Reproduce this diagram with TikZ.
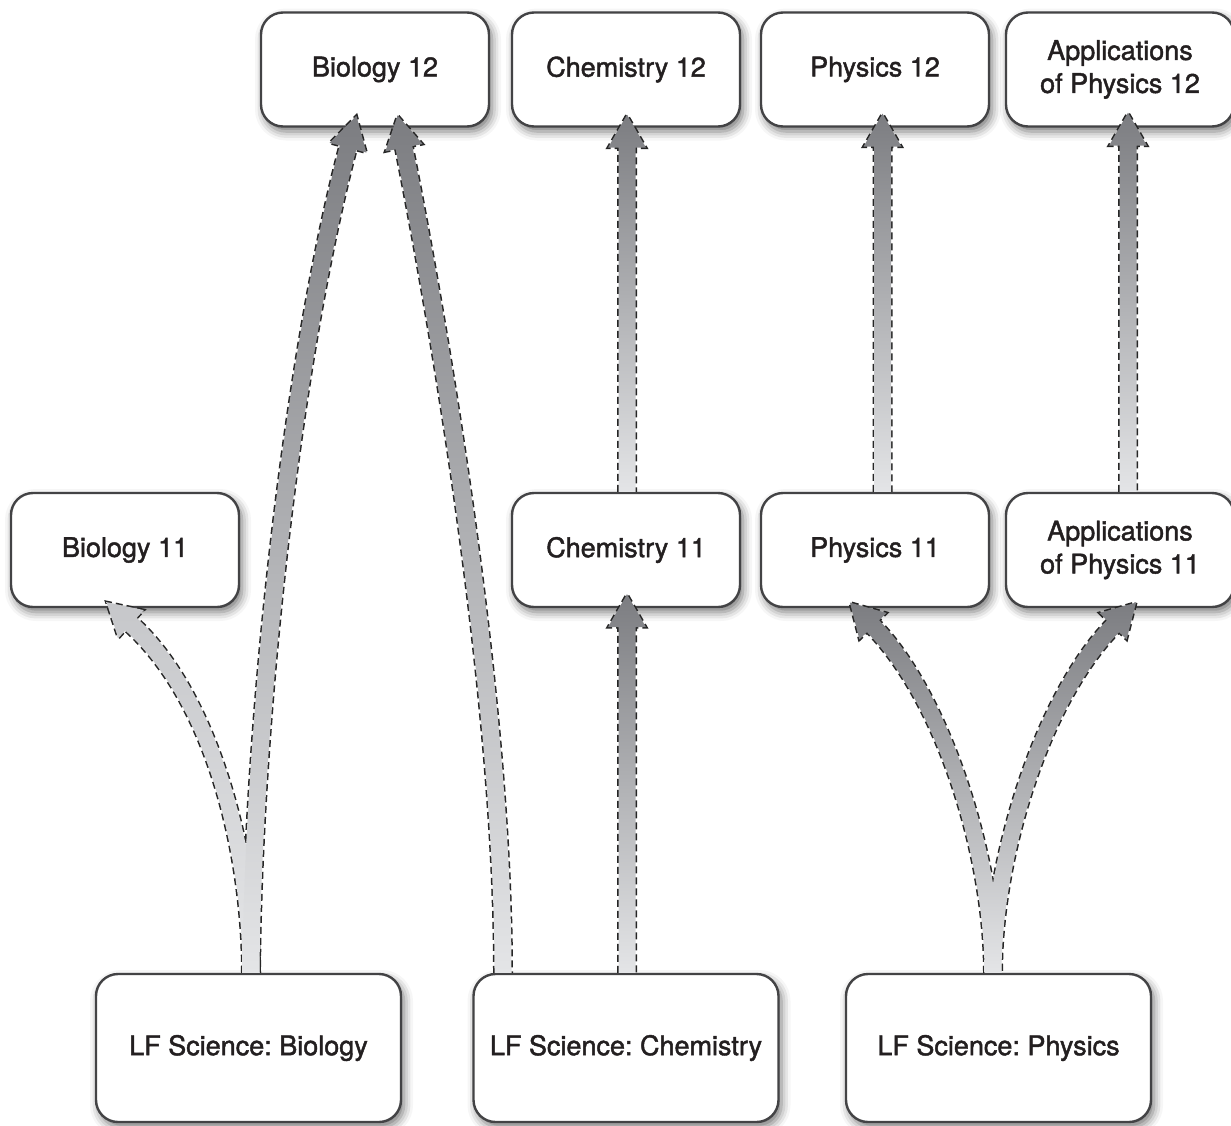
\documentclass[tikz,border=0pt]{standalone}
\usepackage{fontspec}
\setmainfont{TeX Gyre Heros}
\newfontface\boxfont{TeX Gyre Heros}[FakeBold=1.6]
\usetikzlibrary{calc,shadows.blur}
\definecolor{boxline}{HTML}{434345}
\definecolor{textcol}{HTML}{231F20}
\definecolor{flowdark}{HTML}{7C7D81}
\definecolor{flowlight}{HTML}{E4E5E7}
\definecolor{flowpale}{HTML}{C6C7CA}
\def\shaftw{4.25pt}
\def\headw{9.5pt}
\def\headl{16.5pt}
% #1 name, #2 tail, #3 #4 controls, #5 base of the head
\newcommand\setarrow[5]{%
  \coordinate (#1p0) at #2; \coordinate (#1p1) at #3;
  \coordinate (#1p2) at #4; \coordinate (#1p3) at #5;
  \coordinate (#1l0) at ($(#1p0)!\shaftw!90:(#1p1)$);
  \coordinate (#1r0) at ($(#1p0)!\shaftw!-90:(#1p1)$);
  \coordinate (#1l3) at ($(#1p3)!\shaftw!-90:(#1p2)$);
  \coordinate (#1r3) at ($(#1p3)!\shaftw!90:(#1p2)$);
  \coordinate (#1l1) at ($(#1p1)+(#1l0)-(#1p0)$);
  \coordinate (#1r1) at ($(#1p1)+(#1r0)-(#1p0)$);
  \coordinate (#1l2) at ($(#1p2)+(#1l3)-(#1p3)$);
  \coordinate (#1r2) at ($(#1p2)+(#1r3)-(#1p3)$);
  \coordinate (#1hl) at ($(#1p3)!\headw!-90:(#1p2)$);
  \coordinate (#1hr) at ($(#1p3)!\headw!90:(#1p2)$);
  \coordinate (#1tip) at ($(#1p3)!-\headl!(#1p2)$);}
\newcommand\arrowpath[1]{(#1l0) .. controls (#1l1) and (#1l2) .. (#1l3) -- (#1hl) -- (#1tip) -- (#1hr) -- (#1r3) .. controls (#1r2) and (#1r1) .. (#1r0)}

\begin{document}
\frenchspacing
\begin{tikzpicture}[x=0.5pt, y=-0.5pt,
    box/.style={draw=boxline, line width=1.2pt, fill=white, rounded corners=11pt,
      minimum width=114pt, minimum height=57pt, align=center, text=textcol,
      font=\boxfont\fontsize{13.5}{16.5}\selectfont,
      blur shadow={shadow xshift=1.5pt, shadow yshift=-2.5pt, shadow blur radius=4.5pt, shadow opacity=55}},
    lfbox/.style={box, minimum width=152.5pt, minimum height=74pt},
    flowfill/.style={top color=flowdark, bottom color=flowlight},
    palefill/.style={top color=flowpale, bottom color=flowlight},
    flowedge/.style={draw=black!85, line width=1.5pt, dash pattern=on 3.5pt off 2pt}]
  \useasboundingbox (0,0) rectangle (1231,1125);
  %%%%% BOXES %%%%%
  \node[box] (bio12) at (375,69.5) {Biology 12};
  \node[box] (chem12) at (626,69.5) {Chemistry 12};
  \node[box] (phys12) at (875,69.5) {Physics 12};
  \node[box] (app12) at (1120,69.5) {Applications\\of Physics 12};

  \node[box] (bio11) at (125,550) {Biology 11};
  \node[box] (chem11) at (626,550) {Chemistry 11};
  \node[box] (phys11) at (875,550) {Physics 11};
  \node[box] (app11) at (1120,550) {Applications\\of Physics 11};

  \node[lfbox] (lfbio) at (248.5,1048) {LF Science: Biology};
  \node[lfbox] (lfchem) at (626,1048) {LF Science: Chemistry};
  \node[lfbox] (lfphys) at (998.5,1048) {LF Science: Physics};

  %%%%% ARROWS %%%%%
  \setarrow{a}{($(lfbio.north)+(2.5,0)$)}{(251,860)}{(215,700)}{($(bio11.south)+(6,16)$)}
  \setarrow{b}{($(lfbio.north)+(2.5,0)$)}{(253,720)}{(292,360)}{($(bio12.south)+(-27,20)$)}
  \setarrow{c}{($(lfchem.north)+(-123,0)$)}{(503,700)}{(440,330)}{($(bio12.south)+(29,20)$)}
  \setarrow{d}{($(lfchem.north)+(1,0)$)}{(627,850)}{(627,750)}{($(chem11.south)+(1,19)$)}
  \setarrow{e}{($(chem11.north)+(1,0)$)}{(627,400)}{(627,250)}{($(chem12.south)+(1,20)$)}
  \setarrow{f}{($(phys11.north)+(7.5,0)$)}{(882.5,400)}{(882.5,250)}{($(phys12.south)+(7.5,19)$)}
  \setarrow{g}{($(app11.north)+(8,0)$)}{(1128,400)}{(1128,250)}{($(app12.south)+(8,18)$)}
  \setarrow{h}{($(lfphys.north)+(-5.5,0)$)}{(993,860)}{(945,700)}{($(phys11.south)+(-2,18)$)}
  \setarrow{k}{($(lfphys.north)+(-5.5,0)$)}{(993,860)}{(1041,700)}{($(app11.south)+(-7,18)$)}

  % dashed edges, half hidden by the fills
  \draw[flowedge] \arrowpath{a};
  \draw[flowedge] \arrowpath{b};
  \draw[flowedge] \arrowpath{c};
  \draw[flowedge] \arrowpath{d};
  \draw[flowedge] \arrowpath{e};
  \draw[flowedge] \arrowpath{f};
  \draw[flowedge] \arrowpath{g};
  \draw[flowedge] \arrowpath{h};
  \draw[flowedge] \arrowpath{k};

  \path[palefill] \arrowpath{a} -- cycle;
  \path[flowfill] \arrowpath{b} -- cycle;
  \path[flowfill] \arrowpath{c} -- cycle;
  \path[flowfill] \arrowpath{d} -- cycle;
  \path[flowfill] \arrowpath{e} -- cycle;
  \path[flowfill] \arrowpath{f} -- cycle;
  \path[flowfill] \arrowpath{g} -- cycle;
  \path[flowfill] \arrowpath{h} -- cycle;
  \path[flowfill] \arrowpath{k} -- cycle;
\end{tikzpicture}
\end{document}
